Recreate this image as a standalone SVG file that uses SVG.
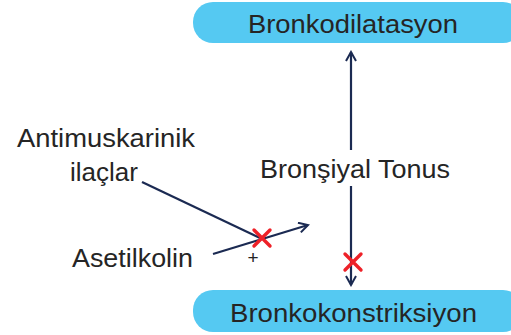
<svg xmlns="http://www.w3.org/2000/svg" width="511" height="335" viewBox="0 0 511 335">
<style>
.box{fill:#55c9f2;}
.t{font-family:"Liberation Sans",Arial,sans-serif;font-size:26px;fill:#252525;}
.ln{stroke:#1b2a52;stroke-width:2.2;fill:none;}
.x{stroke:#ee2128;stroke-width:3.4;stroke-linecap:round;}
</style>
<defs>
<marker id="ah" viewBox="0 0 12 12" refX="10" refY="6" markerWidth="12" markerHeight="12" markerUnits="userSpaceOnUse" orient="auto">
<path d="M1,1 L10,6 L1,11" fill="none" stroke="#1b2a52" stroke-width="2"/>
</marker>
</defs>
<g id="node-bronkodilatasyon">
<rect class="box" x="193" y="2" width="330" height="41" rx="20"/>
<text class="t" x="248" y="33" textLength="210" lengthAdjust="spacingAndGlyphs">Bronkodilatasyon</text>
</g>
<g id="node-bronkokonstriksiyon">
<rect class="box" x="193" y="290" width="330" height="42" rx="20"/>
<text class="t" x="230" y="322" textLength="247" lengthAdjust="spacingAndGlyphs">Bronkokonstriksiyon</text>
</g>
<g id="node-tonus">
<text class="t" x="260" y="178" textLength="190" lengthAdjust="spacingAndGlyphs">Bronşiyal Tonus</text>
</g>
<g id="node-antimuskarinik">
<text class="t" x="17" y="147" textLength="178" lengthAdjust="spacingAndGlyphs">Antimuskarinik</text>
<text class="t" x="70" y="181" textLength="68" lengthAdjust="spacingAndGlyphs">ilaçlar</text>
</g>
<g id="node-asetilkolin">
<text class="t" x="72" y="267" textLength="121" lengthAdjust="spacingAndGlyphs">Asetilkolin</text>
</g>
<g id="connectors">
<line class="ln" x1="351" y1="150" x2="351" y2="52" marker-end="url(#ah)"/>
<line class="ln" x1="351" y1="186" x2="351" y2="285" marker-end="url(#ah)"/>
<line class="ln" x1="142" y1="182" x2="260" y2="238"/>
<line class="ln" x1="213" y1="254" x2="308" y2="225" marker-end="url(#ah)"/>
</g>
<g id="marks">
<path class="x" d="M254,230 L270,246 M270,230 L254,246"/>
<path class="x" d="M345,254 L361,270 M361,254 L345,270"/>
<text x="253" y="264" text-anchor="middle" style="font-family:'Liberation Sans',Arial,sans-serif;font-size:19px;fill:#252525;">+</text>
</g>
</svg>
